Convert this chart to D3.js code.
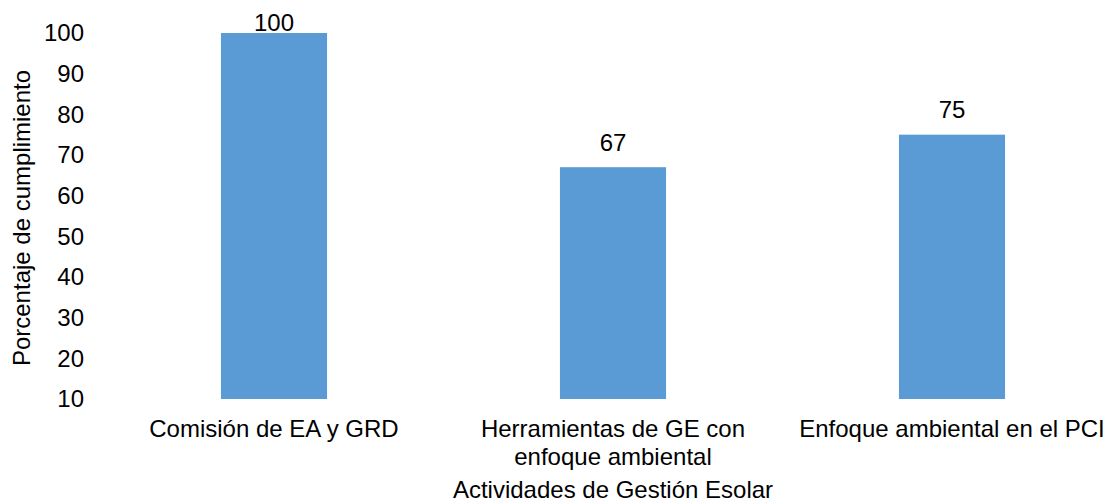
<!DOCTYPE html>
<html>
<head>
<meta charset="utf-8">
<script src="https://cdn.jsdelivr.net/npm/d3@7"></script>
<style>
  body { margin: 0; background: #fff; }
  text { font-family: "Liberation Sans", Arial, sans-serif; fill: #000; }
</style>
</head>
<body>
<div class="chart"></div>
<script>
// chart data
var categories = ["Comisión de EA y GRD", "Herramientas de GE con enfoque ambiental", "Enfoque ambiental en el PCI"];
var categoryLines = [["Comisión de EA y GRD"], ["Herramientas de GE con", "enfoque ambiental"], ["Enfoque ambiental en el PCI"]];
var values = [100, 67, 75];
var yTicks = [10, 20, 30, 40, 50, 60, 70, 80, 90, 100];

var svgWidth = 1107;
var svgHeight = 501;
var fontSize = 24;

var svg = d3.select(".chart")
  .append("svg")
  .attr("width", svgWidth)
  .attr("height", svgHeight);

var data = categories.map(function(c, i) {
  return { cat: c, lines: categoryLines[i], value: values[i] };
});

// scales
var xScale = d3.scaleBand()
  .domain(categories)
  .range([104.5, 1121.5])
  .paddingInner(0.687)
  .paddingOuter(0.3435);

var yScale = d3.scaleLinear()
  .domain([10, 100])
  .range([399, 33]);

// y axis (no line, no ticks)
var leftAxis = d3.axisLeft(yScale)
  .tickValues(yTicks)
  .tickSize(0)
  .tickPadding(0);

var yAxisG = svg.append("g")
  .attr("transform", "translate(84, 0)")
  .call(leftAxis);
yAxisG.select(".domain").remove();
yAxisG.attr("font-size", null).attr("font-family", null);
yAxisG.selectAll("text")
  .attr("font-size", fontSize)
  .attr("fill", "#000");

// bars
svg.selectAll("rect.bar")
  .data(data)
  .enter()
  .append("rect")
  .attr("class", "bar")
  .attr("x", d => xScale(d.cat))
  .attr("y", d => yScale(d.value))
  .attr("width", xScale.bandwidth())
  .attr("height", d => yScale(10) - yScale(d.value))
  .attr("fill", "#5B9BD5");

// value labels
svg.selectAll("text.val")
  .data(data)
  .enter()
  .append("text")
  .attr("class", "val")
  .attr("x", d => xScale(d.cat) + xScale.bandwidth() / 2)
  .attr("y", d => Math.max(yScale(d.value) - 16.5, 31))
  .attr("text-anchor", "middle")
  .attr("font-size", fontSize)
  .text(d => d.value);

// category labels
var catG = svg.selectAll("text.cat")
  .data(data)
  .enter()
  .append("text")
  .attr("class", "cat")
  .attr("text-anchor", "middle")
  .attr("font-size", fontSize);

catG.selectAll("tspan")
  .data(d => d.lines.map(l => ({ line: l, x: xScale(d.cat) + xScale.bandwidth() / 2 })))
  .enter()
  .append("tspan")
  .attr("x", d => d.x)
  .attr("y", (d, i) => 437 + i * 28)
  .text(d => d.line);

// axis titles
svg.append("text")
  .attr("x", xScale(categories[1]) + xScale.bandwidth() / 2)
  .attr("y", 498)
  .attr("text-anchor", "middle")
  .attr("font-size", fontSize)
  .text("Actividades de Gestión Esolar");

svg.append("text")
  .attr("transform", "translate(30, 218) rotate(-90)")
  .attr("text-anchor", "middle")
  .attr("font-size", fontSize)
  .text("Porcentaje de cumplimiento");
</script>
</body>
</html>
